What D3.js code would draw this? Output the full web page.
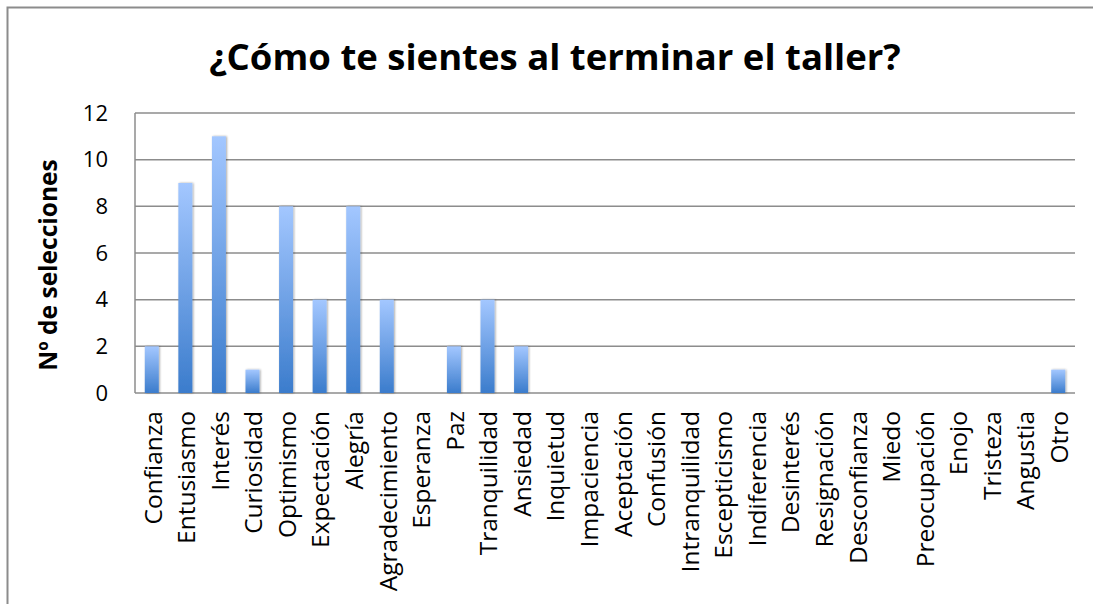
<!DOCTYPE html>
<html>
<head>
<meta charset="utf-8">
<script src="https://cdn.jsdelivr.net/npm/d3@7"></script>
<style>
  body { margin: 0; background: #fff; }
  text { font-family: "Open Sans", Lato, sans-serif; fill: #000; }
</style>
</head>
<body>
<div id="chart"></div>
<script>
var categories = ["Confianza", "Entusiasmo", "Interés", "Curiosidad", "Optimismo", "Expectación",
    "Alegría", "Agradecimiento", "Esperanza", "Paz", "Tranquilidad", "Ansiedad", "Inquietud",
    "Impaciencia", "Aceptación", "Confusión", "Intranquilidad", "Escepticismo", "Indiferencia",
    "Desinterés", "Resignación", "Desconfianza", "Miedo", "Preocupación", "Enojo", "Tristeza",
    "Angustia", "Otro"];
var values = [2, 9, 11, 1, 8, 4, 8, 4, 0, 2, 4, 2, 0, 0, 0, 0, 0, 0, 0, 0, 0, 0, 0, 0, 0, 0, 0, 1];
var yTicks = [0, 2, 4, 6, 8, 10, 12];
var title = "¿Cómo te sientes al terminar el taller?";
var yTitle = "Nº de selecciones";

var W = 1093, H = 604;
var margin = { top: 113, left: 135, right: 18, bottom: 211 };
var width = W - margin.left - margin.right,
    height = H - margin.top - margin.bottom;

var svg = d3.select("#chart").append("svg")
    .attr("width", W)
    .attr("height", H);

// outer frame (only top and left are visible in the picture)
svg.append("path")
    .attr("d", "M7.5," + H + "V7.5H" + W)
    .attr("fill", "none")
    .attr("stroke", "#8c8c8c")
    .attr("stroke-width", 2);

var defs = svg.append("defs");
var grad = defs.append("linearGradient")
    .attr("id", "barGrad")
    .attr("x1", 0).attr("y1", 0).attr("x2", 0).attr("y2", 1);
grad.append("stop").attr("offset", "0%").attr("stop-color", "#a3c7ff");
grad.append("stop").attr("offset", "100%").attr("stop-color", "#3b7ccc");

var shadow = defs.append("filter").attr("id", "shadow")
    .attr("x", "-30%").attr("y", "-10%").attr("width", "160%").attr("height", "120%");
shadow.append("feGaussianBlur").attr("in", "SourceAlpha").attr("stdDeviation", 1.2);
shadow.append("feOffset").attr("dx", 1).attr("dy", 0).attr("result", "b");
shadow.append("feComponentTransfer").append("feFuncA").attr("type", "linear").attr("slope", 0.35);
var merge = shadow.append("feMerge");
merge.append("feMergeNode");
merge.append("feMergeNode").attr("in", "SourceGraphic");

var g = svg.append("g")
    .attr("transform", "translate(" + margin.left + "," + margin.top + ")");

var x = d3.scaleBand().domain(categories).range([0, width]).paddingInner(0).paddingOuter(0);
var y = d3.scaleLinear().domain([0, 12]).range([height, 0]);

// gridlines
g.append("g").selectAll("line")
    .data(yTicks)
    .enter().append("line")
    .attr("x1", 0).attr("x2", width)
    .attr("y1", function(d) { return y(d); })
    .attr("y2", function(d) { return y(d); })
    .attr("stroke", "#8c8c8c")
    .attr("stroke-width", 1.5);

// left axis line
g.append("line")
    .attr("x1", 0).attr("x2", 0)
    .attr("y1", 0).attr("y2", height)
    .attr("stroke", "#8c8c8c")
    .attr("stroke-width", 1.5);

// y tick labels
var yAxis = d3.axisLeft(y).tickValues(yTicks).tickSize(0).tickPadding(27);
var ya = g.append("g").call(yAxis);
ya.select(".domain").remove();
ya.selectAll("text")
    .style("font-family", "'Open Sans', sans-serif")
    .style("font-size", "22px")
    .attr("fill", "#000");

// bars
var barW = 14;
g.append("g").selectAll("rect")
    .data(values)
    .enter().append("rect")
    .attr("x", function(d, i) { return x(categories[i]) + x.bandwidth() / 2 - barW / 2; })
    .attr("y", function(d) { return y(d); })
    .attr("width", barW)
    .attr("height", function(d) { return height - y(d); })
    .attr("fill", "url(#barGrad)")
    .attr("filter", "url(#shadow)");

// x labels
var xAxis = d3.axisBottom(x).tickSize(0).tickPadding(0);
var xa = g.append("g")
    .attr("transform", "translate(0," + height + ")")
    .call(xAxis);
xa.select(".domain").remove();
xa.selectAll("text")
    .style("font-family", "'Open Sans', sans-serif")
    .style("font-size", "24.5px")
    .attr("fill", "#000")
    .attr("text-anchor", "end")
    .attr("transform", "translate(1,18) rotate(-90)")
    .attr("x", 0)
    .attr("y", 0)
    .attr("dy", "0.36em");

// title
svg.append("text")
    .attr("x", 555)
    .attr("y", 70)
    .attr("text-anchor", "middle")
    .style("font-size", "36.5px")
    .style("font-weight", "bold")
    .text(title);

// y axis title
svg.append("text")
    .attr("transform", "translate(57,265) rotate(-90)")
    .attr("text-anchor", "middle")
    .style("font-size", "24.5px")
    .style("font-weight", "bold")
    .text(yTitle);
</script>
</body>
</html>
